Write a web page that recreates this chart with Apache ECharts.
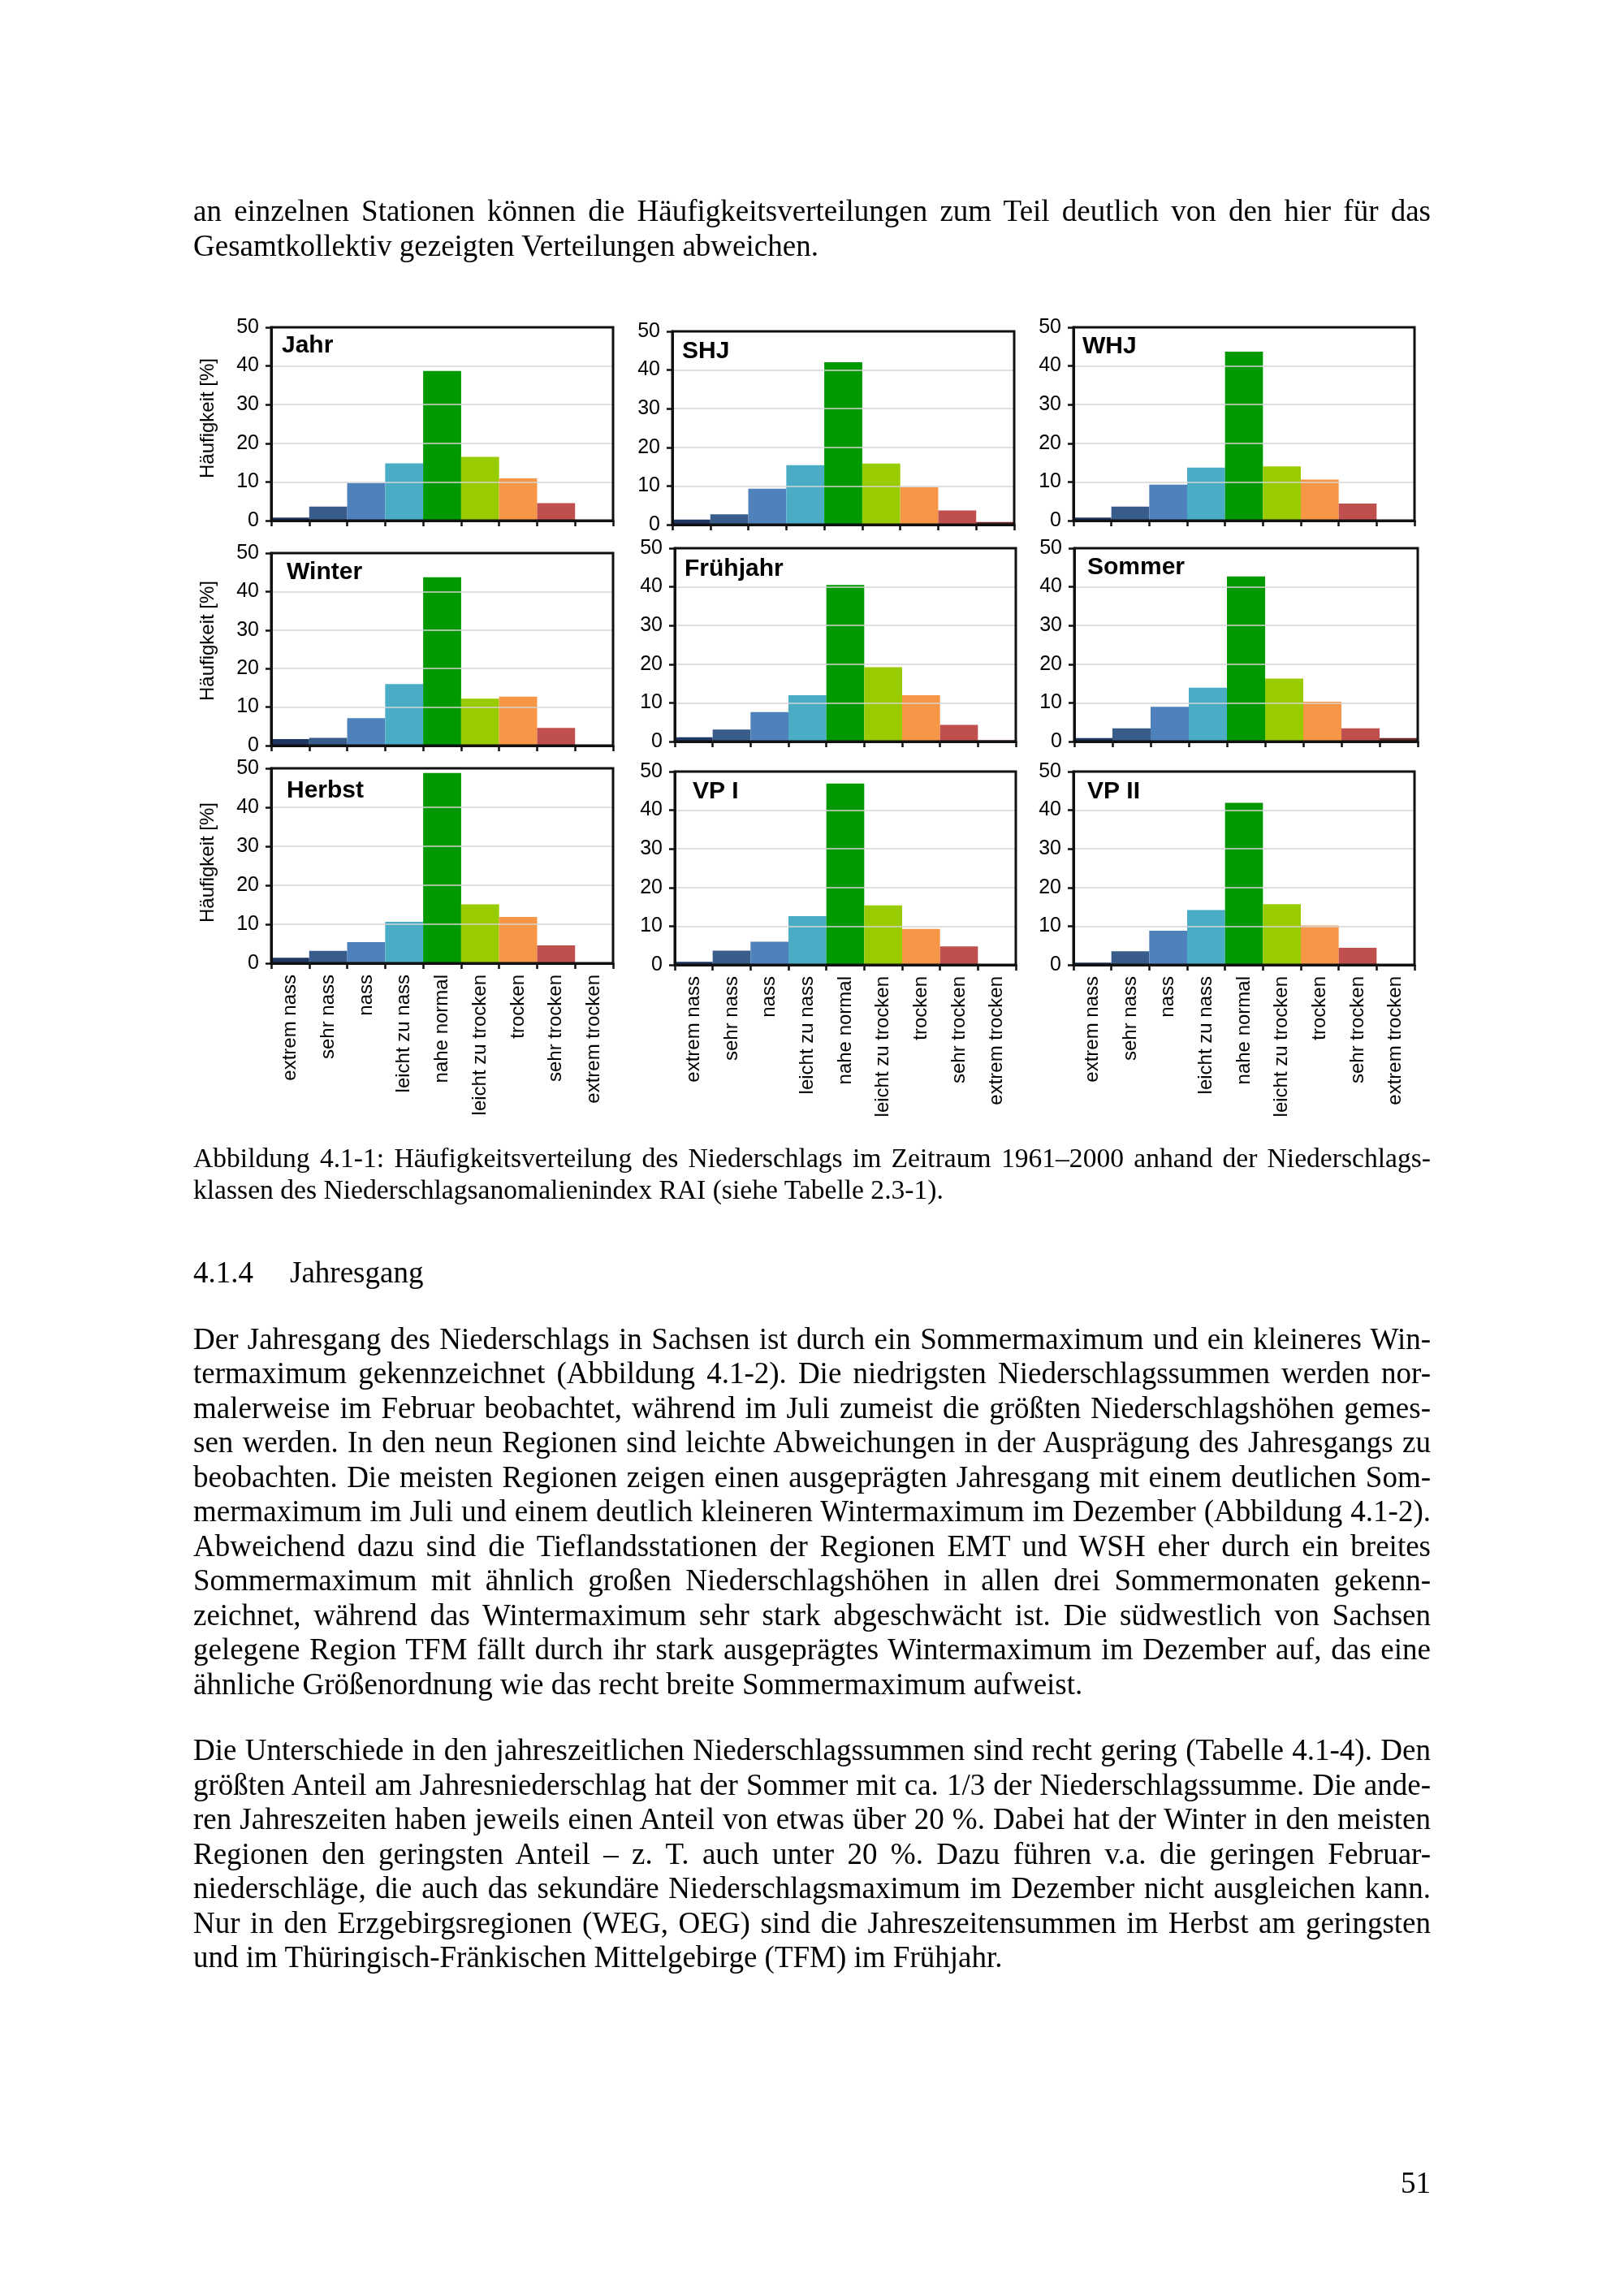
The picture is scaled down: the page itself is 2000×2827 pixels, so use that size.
<!DOCTYPE html>
<html>
<head>
<meta charset="utf-8">
<script src="https://cdn.jsdelivr.net/npm/echarts@6/dist/echarts.min.js"></script>
<style>
html,body{margin:0;padding:0;background:#fff;}
#page{position:relative;width:2000px;height:2827px;overflow:hidden;background:#fff;}
#chart{position:absolute;left:0;top:0;width:2000px;height:2827px;}
.ln{position:absolute;left:238px;width:1524px;font-family:"Liberation Serif","Times New Roman",serif;color:#000;}
.body{font-size:37px;line-height:42.5px;height:42.5px;}
.cap{font-size:33.6px;line-height:38.6px;height:38.6px;}
.j{text-align:justify;text-align-last:justify;}
.l{text-align:left;}
</style>
</head>
<body>
<div id="page">
  <div id="chart"></div>
  <div id="text"></div>
</div>
<script>
// ---------------- data ----------------
const categories = ['extrem nass','sehr nass','nass','leicht zu nass','nahe normal','leicht zu trocken','trocken','sehr trocken','extrem trocken'];
const panelNames = ['Jahr','SHJ','WHJ','Winter','Frühjahr','Sommer','Herbst','VP I','VP II'];
const jahr      = [0.8, 3.6, 9.7, 14.8, 38.7, 16.5, 10.9, 4.5, 0];
const shj       = [1.3, 2.7, 9.3, 15.4, 42.0, 15.8,  9.7, 3.7, 0.7];
const whj       = [0.8, 3.6, 9.3, 13.7, 43.7, 14.0, 10.6, 4.4, 0];
const winter    = [1.7, 2.0, 7.1, 16.0, 43.7, 12.2, 12.7, 4.6, 0];
const fruehjahr = [1.1, 3.1, 7.6, 12.0, 40.5, 19.2, 12.0, 4.3, 0.3];
const sommer    = [0.9, 3.4, 9.0, 13.9, 42.7, 16.3, 10.3, 3.4, 0.9];
const herbst    = [1.4, 3.2, 5.4, 10.6, 48.8, 15.1, 11.9, 4.6, 0];
const vp1       = [0.8, 3.7, 6.0, 12.6, 46.9, 15.4,  9.3, 4.8, 0];
const vp2       = [0.6, 3.5, 8.8, 14.2, 41.9, 15.7, 10.2, 4.4, 0];
const yTicks = [0, 10, 20, 30, 40, 50];
const yAxisName = 'Häufigkeit [%]';

const panelData = [jahr, shj, whj, winter, fruehjahr, sommer, herbst, vp1, vp2];

// ---------------- styles / layout ----------------
const barColors = ['#1f3763','#385d8a','#4f81bd','#4bacc6','#009900','#99cc00','#f79646','#c0504d','#6e2a28'];
// plot boxes: left, top, right, bottom ; title position tx, ty(center) ; y-name center ny
const layout = [
  {l:334, t:403, r:755,  b:641,  tx:347,  ty:426, ny:515},
  {l:828, t:408, r:1249, b:646,  tx:840,  ty:433},
  {l:1322,t:403, r:1742, b:641,  tx:1333, ty:427},
  {l:334, t:681, r:755,  b:918,  tx:353,  ty:705, ny:789},
  {l:831, t:675, r:1251, b:913,  tx:843,  ty:701},
  {l:1323,t:675, r:1746, b:913,  tx:1339, ty:699},
  {l:334, t:946, r:755,  b:1186, tx:353,  ty:974, ny:1062},
  {l:831, t:950, r:1251, b:1188, tx:853,  ty:975},
  {l:1322,t:950, r:1742, b:1188, tx:1339, ty:975}
];
const yNameX = 256;
const frame = '#111111';
const sans = '"Liberation Sans", Arial, sans-serif';

const chart = echarts.init(document.getElementById('chart'), null, {renderer:'canvas', width:2000, height:2827});

const grids = [], xAxes = [], yAxes = [], series = [], graphics = [];
layout.forEach((p, i) => {
  const row = Math.floor(i / 3), col = i % 3;
  grids.push({left:p.l, top:p.t, width:p.r - p.l, height:p.b - p.t, show:true, z:6,
    borderColor:frame, borderWidth:3, backgroundColor:'rgba(0,0,0,0)', containLabel:false});
  xAxes.push({type:'category', gridIndex:i, data:categories, z:5,
    axisLine:{show:true, lineStyle:{color:frame, width:3}},
    axisTick:{show:true, interval:0, length:7, lineStyle:{color:frame, width:2.5}},
    axisLabel:{show:row === 2, interval:0, rotate:90, margin:14, color:'#000',
      fontFamily:sans, fontSize:24},
    splitLine:{show:false}});
  yAxes.push({type:'value', gridIndex:i, min:yTicks[0], max:yTicks[yTicks.length-1],
    interval:yTicks[1] - yTicks[0], z:5,
    axisLine:{show:true, lineStyle:{color:frame, width:3}},
    axisTick:{show:true, length:7, lineStyle:{color:frame, width:2.5}},
    axisLabel:{show:true, margin:15, color:'#000', fontFamily:sans, fontSize:25},
    splitLine:{show:true, showMinLine:false, showMaxLine:false,
      lineStyle:{color:'#d4d4d4', width:1.5}}});
  series.push({type:'bar', xAxisIndex:i, yAxisIndex:i, barCategoryGap:'0%', barGap:'0%',
    silent:true,
    data: panelData[i].map((v, k) => ({value:v, itemStyle:{color:barColors[k]}}))});
  graphics.push({type:'text', x:p.tx, y:p.ty, z:10, silent:true,
    style:{text:panelNames[i], fill:'#000', font:'bold 30px ' + sans,
      textAlign:'left', textVerticalAlign:'middle', align:'left', verticalAlign:'middle'}});
  if (col === 0) {
    graphics.push({type:'text', x:yNameX, y:p.ny, rotation:Math.PI / 2, z:10, silent:true,
      style:{text:yAxisName, fill:'#000', font:'24px ' + sans,
        textAlign:'center', textVerticalAlign:'middle', align:'center', verticalAlign:'middle'}});
  }
});

chart.setOption({
  animation:false,
  backgroundColor:'#fff',
  grid:grids, xAxis:xAxes, yAxis:yAxes, series:series, graphic:graphics
});

// ---------------- page text ----------------
const para1 = [
  'an einzelnen Stationen können die Häufigkeitsverteilungen zum Teil deutlich von den hier für das',
  'Gesamtkollektiv gezeigten Verteilungen abweichen.'
];
const caption = [
  'Abbildung 4.1-1: Häufigkeitsverteilung des Niederschlags im Zeitraum 1961–2000 anhand der Niederschlags-',
  'klassen des Niederschlagsanomalienindex RAI (siehe Tabelle 2.3-1).'
];
const para2 = [
  'Der Jahresgang des Niederschlags in Sachsen ist durch ein Sommermaximum und ein kleineres Win-',
  'termaximum gekennzeichnet (Abbildung 4.1-2). Die niedrigsten Niederschlagssummen werden nor-',
  'malerweise im Februar beobachtet, während im Juli zumeist die größten Niederschlagshöhen gemes-',
  'sen werden. In den neun Regionen sind leichte Abweichungen in der Ausprägung des Jahresgangs zu',
  'beobachten. Die meisten Regionen zeigen einen ausgeprägten Jahresgang mit einem deutlichen Som-',
  'mermaximum im Juli und einem deutlich kleineren Wintermaximum im Dezember (Abbildung 4.1-2).',
  'Abweichend dazu sind die Tieflandsstationen der Regionen EMT und WSH eher durch ein breites',
  'Sommermaximum mit ähnlich großen Niederschlagshöhen in allen drei Sommermonaten gekenn-',
  'zeichnet, während das Wintermaximum sehr stark abgeschwächt ist. Die südwestlich von Sachsen',
  'gelegene Region TFM fällt durch ihr stark ausgeprägtes Wintermaximum im Dezember auf, das eine',
  'ähnliche Größenordnung wie das recht breite Sommermaximum aufweist.'
];
const para3 = [
  'Die Unterschiede in den jahreszeitlichen Niederschlagssummen sind recht gering (Tabelle 4.1-4). Den',
  'größten Anteil am Jahresniederschlag hat der Sommer mit ca. 1/3 der Niederschlagssumme. Die ande-',
  'ren Jahreszeiten haben jeweils einen Anteil von etwas über 20 %. Dabei hat der Winter in den meisten',
  'Regionen den geringsten Anteil – z. T. auch unter 20 %. Dazu führen v.a. die geringen Februar-',
  'niederschläge, die auch das sekundäre Niederschlagsmaximum im Dezember nicht ausgleichen kann.',
  'Nur in den Erzgebirgsregionen (WEG, OEG) sind die Jahreszeitensummen im Herbst am geringsten',
  'und im Thüringisch-Fränkischen Mittelgebirge (TFM) im Frühjahr.'
];
const headingNum = '4.1.4';
const headingText = 'Jahresgang';
const pageNumber = '51';

const host = document.getElementById('text');
function addLines(lines, top0, step, cls) {
  lines.forEach((s, k) => {
    const d = document.createElement('div');
    d.className = 'ln ' + cls + ' ' + (k === lines.length - 1 ? 'l' : 'j');
    d.style.top = (top0 + k * step) + 'px';
    d.textContent = s;
    host.appendChild(d);
  });
}
addLines(para1, 239, 42.5, 'body');
addLines(caption, 1407, 38.6, 'cap');
addLines(para2, 1627.5, 42.5, 'body');
addLines(para3, 2134, 42.5, 'body');

function addSpan(txt, left, top, align) {
  const d = document.createElement('div');
  d.className = 'ln body';
  d.style.top = top + 'px';
  d.style.left = left + 'px';
  d.style.width = 'auto';
  if (align === 'right') { d.style.left = 'auto'; d.style.right = (2000 - left) + 'px'; }
  d.textContent = txt;
  host.appendChild(d);
}
addSpan(headingNum, 238, 1545.5);
addSpan(headingText, 357, 1545.5);
addSpan(pageNumber, 1762, 2666.5, 'right');
</script>
</body>
</html>
